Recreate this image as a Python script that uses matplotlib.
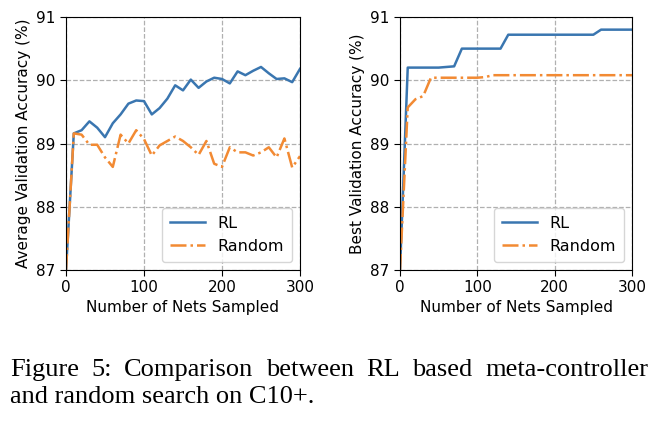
import matplotlib.pyplot as plt

nets = list(range(0, 310, 10))

avg_rl = [87.0, 89.16, 89.21, 89.35, 89.25, 89.1, 89.32, 89.46, 89.63, 89.68, 89.67,
          89.46, 89.56, 89.71, 89.92, 89.84, 90.01, 89.88, 89.98, 90.04, 90.02,
          89.95, 90.14, 90.08, 90.15, 90.21, 90.11, 90.02, 90.03, 89.97, 90.18]
avg_random = [87.0, 89.16, 89.14, 88.98, 88.98, 88.78, 88.63, 89.14, 89.0, 89.21, 89.07,
              88.81, 88.97, 89.04, 89.11, 89.04, 88.94, 88.82, 89.04, 88.68, 88.63,
              88.94, 88.86, 88.86, 88.81, 88.86, 88.94, 88.78, 89.08, 88.62, 88.8]

best_rl = [87.0, 90.2, 90.2, 90.2, 90.2, 90.2, 90.21, 90.22, 90.5, 90.5, 90.5,
           90.5, 90.5, 90.5, 90.72, 90.72, 90.72, 90.72, 90.72, 90.72, 90.72,
           90.72, 90.72, 90.72, 90.72, 90.72, 90.8, 90.8, 90.8, 90.8, 90.8]
best_random = [87.0, 89.57, 89.7, 89.75, 90.04, 90.04, 90.04, 90.04, 90.04, 90.04, 90.04,
               90.05, 90.08, 90.08, 90.08, 90.08, 90.08, 90.08, 90.08, 90.08, 90.08,
               90.08, 90.08, 90.08, 90.08, 90.08, 90.08, 90.08, 90.08, 90.08, 90.08]

caption = ["Figure 5: Comparison between RL based meta-controller",
           "and random search on C10+."]

plt.rcParams['font.family'] = 'DejaVu Sans'
fig = plt.figure(figsize=(6.58, 4.24), dpi=100)
W, H = 658, 424

def make_axes(x0, x1, ylabel, rl, rnd):
    ax = fig.add_axes([x0 / W, 1 - 270 / H, (x1 - x0) / W, (270 - 17) / H])
    ax.plot(nets, rl, color='#3a76b0', lw=1.8, label='RL')
    ax.plot(nets, rnd, color='#f28a33', lw=1.8, ls='-.', label='Random')
    ax.set_xlim(0, 300)
    ax.set_ylim(87, 91)
    ax.set_xticks([0, 100, 200, 300])
    ax.set_yticks([87, 88, 89, 90, 91])
    ax.grid(True, ls='--', color='#b0b0b0', lw=0.9)
    ax.tick_params(labelsize=11, length=4)
    ax.set_xlabel('Number of Nets Sampled', fontsize=11, labelpad=3)
    ax.set_ylabel(ylabel, fontsize=11, labelpad=4)
    ax.legend(loc='lower right', fontsize=11.5, handlelength=2.2, borderpad=0.5)
    return ax

make_axes(66, 300, 'Average Validation Accuracy (%)', avg_rl, avg_random)
make_axes(400, 632, 'Best Validation Accuracy (%)', best_rl, best_random)

# justified caption, first line spread across full width
fig.canvas.draw()
r = fig.canvas.get_renderer()
cap_font = dict(family='Liberation Serif', fontsize=19)
left, right = 10, 648
words = caption[0].split(' ')
texts = [fig.text(0, 0, w, **cap_font) for w in words]
widths = [t.get_window_extent(r).width for t in texts]
gap = (right - left - sum(widths)) / (len(words) - 1)
x = left
for t, wd in zip(texts, widths):
    t.set_position((x / W, 1 - 376 / H))
    x += wd + gap
fig.text(left / W, 1 - 403 / H, caption[1], **cap_font)

fig.savefig('out.png', dpi=100)
